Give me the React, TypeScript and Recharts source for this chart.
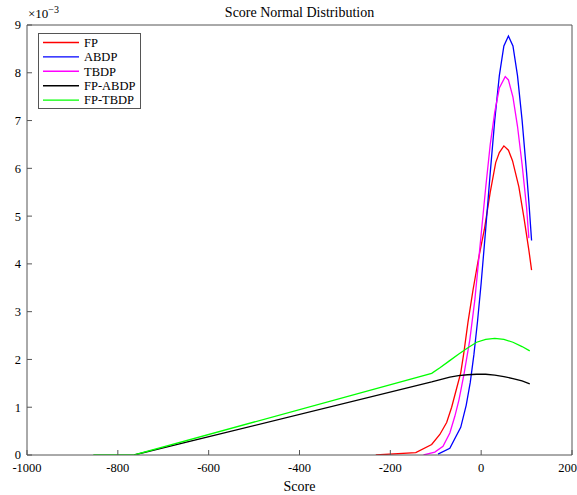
import React from "react";
import { LineChart, Line, XAxis, YAxis, Legend } from "recharts";

// values, y in units of 1e-3
const fpData = [
  { x: -232, y: 0.0 },
  { x: -144, y: 0.05 },
  { x: -109, y: 0.22 },
  { x: -91, y: 0.43 },
  { x: -76, y: 0.68 },
  { x: -65, y: 1.0 },
  { x: -55, y: 1.36 },
  { x: -45, y: 1.72 },
  { x: -38, y: 2.15 },
  { x: -29, y: 2.78 },
  { x: -18, y: 3.45 },
  { x: -7, y: 4.05 },
  { x: 7, y: 4.72 },
  { x: 20, y: 5.5 },
  { x: 32, y: 6.12 },
  { x: 40, y: 6.33 },
  { x: 50, y: 6.47 },
  { x: 60, y: 6.38 },
  { x: 69, y: 6.16 },
  { x: 83, y: 5.61 },
  { x: 94, y: 4.98 },
  { x: 105, y: 4.29 },
  { x: 111, y: 3.87 },
];

const abdpData = [
  { x: -95, y: 0.02 },
  { x: -69, y: 0.14 },
  { x: -45, y: 0.58 },
  { x: -33, y: 1.04 },
  { x: -24, y: 1.52 },
  { x: -16, y: 2.1 },
  { x: -8, y: 2.8 },
  { x: 0, y: 3.6 },
  { x: 10, y: 4.73 },
  { x: 20, y: 5.91 },
  { x: 30, y: 7.02 },
  { x: 40, y: 7.94 },
  { x: 50, y: 8.56 },
  { x: 60, y: 8.77 },
  { x: 70, y: 8.56 },
  { x: 80, y: 7.94 },
  { x: 90, y: 7.02 },
  { x: 100, y: 5.91 },
  { x: 105, y: 5.3 },
  { x: 111, y: 4.49 },
];

const tbdpData = [
  { x: -127, y: 0.0 },
  { x: -102, y: 0.06 },
  { x: -84, y: 0.18 },
  { x: -69, y: 0.46 },
  { x: -58, y: 0.81 },
  { x: -49, y: 1.15 },
  { x: -38, y: 1.68 },
  { x: -25, y: 2.41 },
  { x: -14, y: 3.24 },
  { x: 0, y: 4.62 },
  { x: 10, y: 5.6 },
  { x: 20, y: 6.5 },
  { x: 30, y: 7.18 },
  { x: 40, y: 7.68 },
  { x: 53, y: 7.92 },
  { x: 60, y: 7.85 },
  { x: 70, y: 7.49 },
  { x: 80, y: 6.88 },
  { x: 90, y: 6.09 },
  { x: 100, y: 5.18 },
  { x: 105, y: 4.54 },
];

const fpAbdpData = [
  { x: -764, y: 0.0 },
  { x: -109, y: 1.53 },
  { x: -90, y: 1.58 },
  { x: -69, y: 1.63 },
  { x: -50, y: 1.66 },
  { x: -30, y: 1.68 },
  { x: -10, y: 1.69 },
  { x: 10, y: 1.69 },
  { x: 30, y: 1.67 },
  { x: 50, y: 1.64 },
  { x: 70, y: 1.6 },
  { x: 90, y: 1.55 },
  { x: 107, y: 1.49 },
];

const fpTbdpData = [
  { x: -854, y: 0.0 },
  { x: -764, y: 0.0 },
  { x: -109, y: 1.71 },
  { x: -90, y: 1.83 },
  { x: -70, y: 1.97 },
  { x: -50, y: 2.11 },
  { x: -30, y: 2.24 },
  { x: -10, y: 2.36 },
  { x: 10, y: 2.42 },
  { x: 30, y: 2.44 },
  { x: 50, y: 2.42 },
  { x: 70, y: 2.36 },
  { x: 90, y: 2.27 },
  { x: 107, y: 2.18 },
];

const xTicks = [-1000, -800, -600, -400, -200, 0, 200];
const yTicks = [0, 1, 2, 3, 4, 5, 6, 7, 8, 9];

const series = [
  { name: "FP", color: "#ff0000", data: fpData },
  { name: "ABDP", color: "#0000ff", data: abdpData },
  { name: "TBDP", color: "#ff00ff", data: tbdpData },
  { name: "FP-ABDP", color: "#000000", data: fpAbdpData },
  { name: "FP-TBDP", color: "#00ff00", data: fpTbdpData },
];

const font = "'Liberation Serif', 'Times New Roman', serif";
const axisColor = "#555";

// legend drawn as one small svg so the sample lines stay crisp
function LegendBox() {
  return (
    <svg width={103} height={76} style={{ display: "block", background: "#fff" }}>
      <rect x={0.5} y={0.5} width={102} height={75} fill="#fff" stroke="#555" />
      {series.map((s, i) => {
        const cy = 9.5 + i * 14.4;
        return (
          <g key={s.name}>
            <line x1={5} x2={41} y1={cy} y2={cy} stroke={s.color} strokeWidth={1.4} />
            <text x={46} y={cy + 4.3} fontFamily={font} fontSize={12.5} fill="#000">
              {s.name}
            </text>
          </g>
        );
      })}
    </svg>
  );
}

export default function App() {
  return (
    <div style={{ position: "absolute", left: 0, top: 0, width: 577, height: 495, background: "#fff" }}>
      <LineChart width={577} height={495} margin={{ top: 24, right: 4, bottom: 10, left: 2 }}>
        <XAxis
          dataKey="x"
          type="number"
          domain={[-1000, 200]}
          ticks={xTicks}
          allowDataOverflow
          height={30}
          tickSize={-5}
          tickMargin={13}
          stroke={axisColor}
          tick={{ fill: "#000", fontFamily: font, fontSize: 12.5 }}
        />
        <XAxis
          xAxisId="top"
          dataKey="x"
          type="number"
          orientation="top"
          domain={[-1000, 200]}
          ticks={xTicks}
          allowDataOverflow
          height={1}
          tickSize={-5}
          tick={false}
          stroke={axisColor}
        />
        <YAxis
          type="number"
          domain={[0, 9]}
          ticks={yTicks}
          allowDataOverflow
          width={25}
          tickSize={-5}
          tickMargin={11}
          stroke={axisColor}
          tick={{ fill: "#000", fontFamily: font, fontSize: 12.5 }}
        />
        <YAxis
          yAxisId="right"
          orientation="right"
          type="number"
          domain={[0, 9]}
          ticks={yTicks}
          allowDataOverflow
          width={1}
          tickSize={-5}
          tick={false}
          stroke={axisColor}
        />
        <Legend
          layout="horizontal"
          verticalAlign="middle"
          content={() => <LegendBox />}
          wrapperStyle={{ top: 33, left: 38, width: 103, height: 76 }}
        />
        {series.map((s) => (
          <Line
            key={s.name}
            data={s.data}
            dataKey="y"
            name={s.name}
            type="linear"
            stroke={s.color}
            strokeWidth={1.3}
            dot={false}
            activeDot={false}
            isAnimationActive={false}
          />
        ))}
      </LineChart>
      <div
        style={{
          position: "absolute",
          left: 0,
          width: 599,
          top: 5,
          textAlign: "center",
          fontFamily: font,
          fontSize: 14,
        }}
      >
        Score Normal Distribution
      </div>
      <div style={{ position: "absolute", left: 28, top: 4, fontFamily: font, fontSize: 13 }}>
        ×10<sup style={{ fontSize: 10 }}>−3</sup>
      </div>
      <div
        style={{
          position: "absolute",
          left: 0,
          width: 599,
          top: 479,
          textAlign: "center",
          fontFamily: font,
          fontSize: 14,
        }}
      >
        Score
      </div>
    </div>
  );
}
